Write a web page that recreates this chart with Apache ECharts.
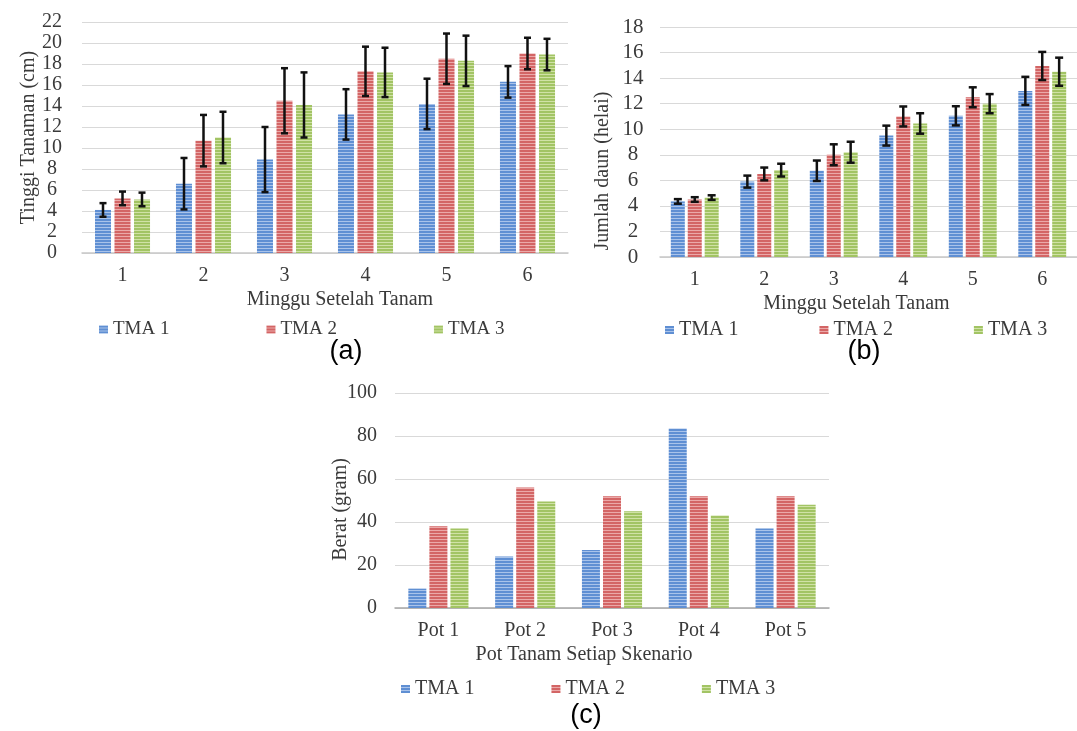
<!DOCTYPE html>
<html>
<head>
<meta charset="utf-8">
<script src="https://cdn.jsdelivr.net/npm/echarts@6/dist/echarts.min.js"></script>
<style>
  html, body { margin: 0; padding: 0; background: #fff; }
  #chart { width: 1077px; height: 731px; }
</style>
</head>
<body>
<div id="chart"></div>
<script>
// three panels: (a) plant height, (b) leaf count, (c) weight
const weeks = ['1', '2', '3', '4', '5', '6'];
const pots = ['Pot 1', 'Pot 2', 'Pot 3', 'Pot 4', 'Pot 5'];
const seriesNames = ['TMA 1', 'TMA 2', 'TMA 3'];

// (a) Tinggi Tanaman (cm)
const tinggiTMA1 = [4.1, 6.6, 8.9, 13.2, 14.2, 16.3];
const tinggiTMA2 = [5.2, 10.7, 14.5, 17.3, 18.5, 19.0];
const tinggiTMA3 = [5.1, 11.0, 14.1, 17.2, 18.3, 18.9];
const tinggiErr1 = [0.65, 2.45, 3.1, 2.4, 2.4, 1.5];
const tinggiErr2 = [0.65, 2.45, 3.1, 2.35, 2.4, 1.5];
const tinggiErr3 = [0.65, 2.45, 3.1, 2.35, 2.4, 1.5];

// (b) Jumlah daun (helai)
const daunTMA1 = [4.35, 5.9, 6.75, 9.5, 11.05, 13.0];
const daunTMA2 = [4.5, 6.5, 8.0, 11.0, 12.5, 14.95];
const daunTMA3 = [4.65, 6.8, 8.2, 10.45, 12.0, 14.5];
const daunErr1 = [0.18, 0.47, 0.8, 0.78, 0.75, 1.1];
const daunErr2 = [0.18, 0.5, 0.82, 0.78, 0.78, 1.1];
const daunErr3 = [0.18, 0.5, 0.82, 0.8, 0.75, 1.1];

// (c) Berat (gram)
const beratTMA1 = [9, 24, 27, 83.5, 37];
const beratTMA2 = [38, 56, 52, 52, 52];
const beratTMA3 = [37, 49.5, 45, 43, 48];

const chartDom = document.getElementById('chart');
const myChart = echarts.init(chartDom);

// horizontal striped fill like the original bars
function stripe(base, light) {
  const c = document.createElement('canvas');
  c.width = 4; c.height = 3;
  const ctx = c.getContext('2d');
  ctx.fillStyle = base; ctx.fillRect(0, 0, 4, 3);
  ctx.fillStyle = light; ctx.fillRect(0, 2, 4, 1);
  return { image: c, repeat: 'repeat' };
}
const fills = [
  stripe('#5f8fd3', '#a9c3ea'),
  stripe('#d36565', '#eba9a9'),
  stripe('#a2c464', '#d0e2a6')
];

const serif = 'Liberation Serif';
const txt = '#3a3a3a';

function errRender(spacing, cap, width) {
  return function (params, api) {
    const cat = api.value(0), val = api.value(1), err = api.value(2), k = api.value(3);
    const hi = api.coord([cat, val + err]);
    const lo = api.coord([cat, val - err]);
    const x = hi[0] + (k - 1) * spacing;
    const style = { stroke: '#111', lineWidth: width };
    return {
      type: 'group',
      children: [
        { type: 'line', shape: { x1: x, y1: hi[1], x2: x, y2: lo[1] }, style },
        { type: 'line', shape: { x1: x - cap, y1: hi[1], x2: x + cap, y2: hi[1] }, style },
        { type: 'line', shape: { x1: x - cap, y1: lo[1], x2: x + cap, y2: lo[1] }, style }
      ]
    };
  };
}

function errData(vals, errs) {
  const out = [];
  vals.forEach((v, k) => v.forEach((y, i) => out.push([i, y, errs[k][i], k])));
  return out;
}

function xAxis(idx, cats, name, pad, axisColor) {
  return {
    type: 'category', gridIndex: idx, data: cats,
    axisTick: { show: false },
    axisLine: { lineStyle: { color: axisColor, width: 1.5 } },
    axisLabel: { color: txt, fontFamily: serif, fontSize: 20, margin: 13 },
    name, nameLocation: 'middle', nameGap: 37, nameMoveOverlap: false,
    nameTextStyle: { color: txt, fontFamily: serif, fontSize: 20, padding: pad }
  };
}

function yAxis(idx, max, interval, name, gap, pad, labelAlign, labelMargin, labelSize) {
  return {
    type: 'value', gridIndex: idx, min: 0, max, interval,
    axisLine: { show: false }, axisTick: { show: false },
    splitLine: { lineStyle: { color: '#d9d9d9', width: 1 } },
    axisLabel: { color: txt, fontFamily: serif, fontSize: labelSize, align: labelAlign, margin: labelMargin },
    name, nameLocation: 'middle', nameRotate: 90, nameGap: gap, nameMoveOverlap: false,
    nameTextStyle: { color: txt, fontFamily: serif, fontSize: 20, padding: pad }
  };
}

function bars(idx, vals, width, gap) {
  return vals.map((v, k) => ({
    name: seriesNames[k], type: 'bar', xAxisIndex: idx, yAxisIndex: idx,
    data: v, barWidth: width, barGap: gap,
    itemStyle: { color: fills[k] }
  }));
}

function legend(left, top, gap, size) {
  return {
    data: seriesNames, left, top, itemGap: gap, itemWidth: 9, itemHeight: 8,
    icon: 'rect', selectedMode: false,
    textStyle: { color: txt, fontFamily: serif, fontSize: size }
  };
}

function caption(text, x, y) {
  return {
    type: 'text', x, y,
    style: { text, font: '27px "Liberation Sans"', fill: '#000', align: 'center', verticalAlign: 'middle' }
  };
}

const option = {
  backgroundColor: '#fff',
  animation: false,
  grid: [
    { left: 82, top: 22, width: 486, height: 231 },
    { left: 660, top: 27, width: 424, height: 230 },
    { left: 395, top: 393, width: 434, height: 215 }
  ],
  xAxis: [
    xAxis(0, weeks, 'Minggu Setelah Tanam', [0, 0, 0, 30], '#c8c8c8'),
    xAxis(1, weeks, 'Minggu Setelah Tanam', [0, 24, 0, 0], '#c8c8c8'),
    xAxis(2, pots, 'Pot Tanam Setiap Skenario', [0, 56, 0, 0], '#a6a6a6')
  ],
  yAxis: [
    yAxis(0, 22, 2, 'Tinggi Tanaman (cm)', 43, [0, 0, 0, 0], 'center', 30, 20),
    yAxis(1, 18, 2, 'Jumlah daun (helai)', 47, [0, 58, 0, 0], 'center', 27, 21),
    yAxis(2, 100, 20, 'Berat (gram)', 44, [0, 18, 0, 0], 'right', 18, 20)
  ],
  legend: [
    legend(94, 315, 97, 19),
    legend(660, 315, 81, 20),
    legend(396, 674, 77, 20)
  ],
  graphic: [
    caption('(a)', 346, 352),
    caption('(b)', 864, 352),
    caption('(c)', 586, 716)
  ],
  series: [
    ...bars(0, [tinggiTMA1, tinggiTMA2, tinggiTMA3], 16, '22%'),
    {
      type: 'custom', xAxisIndex: 0, yAxisIndex: 0, z: 5,
      renderItem: errRender(19.5, 3.5, 2.5), encode: { x: 0, y: 1 },
      data: errData([tinggiTMA1, tinggiTMA2, tinggiTMA3], [tinggiErr1, tinggiErr2, tinggiErr3])
    },
    ...bars(1, [daunTMA1, daunTMA2, daunTMA3], 14, '21%'),
    {
      type: 'custom', xAxisIndex: 1, yAxisIndex: 1, z: 5,
      renderItem: errRender(16.9, 4, 2.5), encode: { x: 0, y: 1 },
      data: errData([daunTMA1, daunTMA2, daunTMA3], [daunErr1, daunErr2, daunErr3])
    },
    ...bars(2, [beratTMA1, beratTMA2, beratTMA3], 18, '17%')
  ]
};

myChart.setOption(option);
</script>
</body>
</html>
